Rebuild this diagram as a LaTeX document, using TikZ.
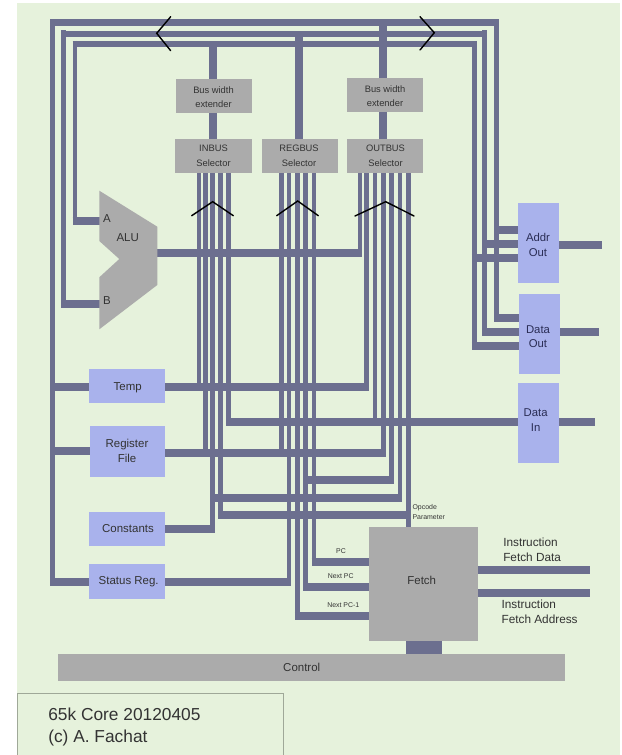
\documentclass[tikz,border=0pt]{standalone}
\usepackage{fontspec}
\setmainfont{Liberation Sans}
\usetikzlibrary{backgrounds}
\definecolor{bgc}{HTML}{E6F2DC}
\definecolor{busc}{HTML}{6C6F8F}
\definecolor{grayc}{HTML}{ABABAB}
\definecolor{bluec}{HTML}{A9B2EC}
\definecolor{txtg}{HTML}{333333}
\definecolor{txtb}{HTML}{2A2D55}
\definecolor{framec}{HTML}{9FA898}
\tikzset{
  graybox/.style={fill=grayc,inner sep=0pt,outer sep=0pt},
  bluebox/.style={fill=bluec,inner sep=0pt,outer sep=0pt},
  txtA/.style={inner sep=0pt,align=center,yshift=-.6pt,text=txtg,font=\fontsize{7pt}{10.9pt}\selectfont},
  txtB/.style={inner sep=0pt,align=center,yshift=-.6pt,text=txtb,font=\fontsize{8.5pt}{10.9pt}\selectfont},
  txtC/.style={inner sep=0pt,align=center,yshift=-.6pt,text=txtg,font=\fontsize{8.6pt}{10.9pt}\selectfont},
  small/.style={inner sep=0pt,align=left,text=txtg,font=\fontsize{5.2pt}{7.5pt}\selectfont},
  side/.style={inner sep=0pt,align=left,yshift=-.6pt,text=txtg,anchor=west,font=\fontsize{8.85pt}{10.8pt}\selectfont},
  vbus/.style={draw=busc,line width=4.7*.75pt,shorten <=-3.5*.75pt,shorten >=-3.5*.75pt},
  hbus/.style={draw=busc,line width=8*.75pt,shorten <=-2.35*.75pt,shorten >=-2.35*.75pt},
  tbus/.style={draw=busc,line width=6.4*.75pt,shorten <=-2.35*.75pt,shorten >=-2.35*.75pt},
  xbus/.style={draw=busc,line width=8*.75pt},
  stem/.style={draw=busc,line width=36*.75pt},
  chev/.style={draw=black,line width=1.4*.75pt,line cap=round,line join=miter},
}
% box plus its text, centred at a given point
\newcommand{\bx}[9][graybox]{%
  \node[#1,minimum width={(#5-#3)*.75pt},minimum height={(#6-#4)*.75pt}] (#2) at ({(#3+#5)/2},{(#4+#6)/2}) {};
  \def\bxname{#2}\def\bxcx{#7}\def\bxcy{#8}\def\bxst{#9}\bxfinish}
\newcommand{\bxfinish}[1]{\node[\bxst] (\bxname t) at (\bxcx,\bxcy) {#1};}
\begin{document}
\begin{tikzpicture}[x=.75pt,y=-.75pt]
\useasboundingbox (0,0) rectangle (621,755);
% ----- nodes -----
\bx{extA}{175.7}{78.7}{251.7}{113.3}{213.5}{97}{txtA}{\strut Bus width\\\strut extender}
\bx{extB}{346.7}{78}{422.7}{112.3}{385}{96}{txtA}{\strut Bus width\\\strut extender}
\bx{inbus}{175}{139}{251.5}{173.3}{213.5}{155.5}{txtA}{\strut INBUS\\\strut Selector}
\bx{regbus}{261.7}{139}{337.5}{173.3}{299}{155.5}{txtA}{\strut REGBUS\\\strut Selector}
\bx{outbus}{347.3}{139}{423.3}{173.3}{385.5}{155.5}{txtA}{\strut OUTBUS\\\strut Selector}
\bx[bluebox]{addr}{518}{203.3}{558.7}{283.3}{538}{245.5}{txtB}{\strut Addr\\\strut Out}
\bx[bluebox]{dout}{519}{293.7}{559.7}{373.7}{538}{337}{txtB}{\strut Data\\\strut Out}
\bx[bluebox]{din}{518}{383.3}{558.7}{463.3}{535.7}{420.5}{txtB}{\strut Data\\\strut In}
\bx[bluebox]{temp}{89.3}{369}{165}{403.3}{127.7}{386.3}{txtC}{\strut Temp}
\bx[bluebox]{reg}{90}{426}{165.3}{477.3}{127}{451.5}{txtC}{\strut Register\\\strut File}
\bx[bluebox]{const}{89.3}{511.7}{165}{546.3}{128}{529}{txtC}{\strut Constants}
\bx[bluebox]{status}{89.3}{564.3}{165}{599}{128.7}{581}{txtC}{\strut Status Reg.}
\bx{control}{57.7}{654.3}{565}{681}{301.7}{667.3}{txtC}{\strut Control}
\bx{fetch}{369.3}{527}{477.7}{640.7}{421.7}{580.7}{txtC}{\strut Fetch}
\fill[grayc] (99.3,190.7) -- (157.3,226.7) -- (157.3,285) -- (99.3,329.3) -- (99.3,277.3) -- (119.3,259) -- (99.3,241) -- cycle;
\node[txtC] (labA) at (107,219) {\strut A};
\node[txtC] (labALU) at (127.7,237.3) {\strut ALU};
\node[txtC] (labB) at (107,300.7) {\strut B};
\node[small,anchor=west] (op) at (412.3,512.7) {\strut Opcode\\\strut Parameter};
\node[small] (lpc) at (341,551.3) {\strut PC};
\node[small] (lnpc) at (340.7,576.3) {\strut Next PC};
\node[small] (lnpc1) at (343.3,605) {\strut Next PC-1};
\node[side] (ifd) at (503,550.5) {\strut Instruction\\\strut Fetch Data};
\node[side] (ifa) at (501.3,612.5) {\strut Instruction\\\strut Fetch Address};
\node[draw=framec,line width=.75pt,minimum width=266*.75pt,minimum height=70*.75pt,inner sep=0pt,anchor=north west] (title) at (17,693) {};
\node[inner sep=0pt,anchor=west,align=left,yshift=-.6pt,text=txtg,font=\fontsize{13pt}{16.5pt}\selectfont] (titlet) at (48,726) {\strut 65k Core 20120405\\\strut (c) A. Fachat};
% ----- bus coordinates -----
\coordinate (i1) at (199,173.3); \coordinate (i2) at (205.5,173.3); \coordinate (i3) at (212.8,173.3); \coordinate (i4) at (220.7,173.3); \coordinate (i5) at (228.5,173.3);
\coordinate (r1) at (281.8,173.3); \coordinate (r2) at (289,173.3); \coordinate (r3) at (297.2,173.3); \coordinate (r4) at (305.5,173.3); \coordinate (r5) at (314,173.3);
\coordinate (o1) at (360,173.3); \coordinate (o2) at (366.7,173.3); \coordinate (o3) at (375,173.3); \coordinate (o4) at (383.3,173.3); \coordinate (o5) at (391.7,173.3); \coordinate (o6) at (400,173.3); \coordinate (o7) at (408.3,173.3);
\coordinate (tl1) at (52.7,22.7); \coordinate (tl2) at (63.5,34); \coordinate (tl3) at (75,44.3);
\coordinate (tr1) at (496.7,22.7); \coordinate (tr2) at (484.7,34); \coordinate (tr3) at (474.3,44.3);
\coordinate (aluA) at (99.3,220.7); \coordinate (aluB) at (99.3,304); \coordinate (aluO) at (157.3,253.3);
\coordinate (a1) at (518,230); \coordinate (a2) at (518,244.3); \coordinate (a3) at (518,258);
\coordinate (d1) at (519,318); \coordinate (d2) at (519,331.7); \coordinate (d3) at (519,346);
\coordinate (aO) at (558.7,245); \coordinate (aE) at (599.4,245);
\coordinate (dO) at (559.7,332); \coordinate (dE) at (596.6,332);
\coordinate (iI) at (518,421.7); \coordinate (iO) at (558.7,421.7); \coordinate (iE) at (592.6,421.7);
\coordinate (tmpR) at (165,386.7); \coordinate (tmpL) at (89.3,386.7);
\coordinate (regR) at (165.3,452.7); \coordinate (regL) at (90,450.7);
\coordinate (constR) at (165,529); \coordinate (statR) at (165,581.5); \coordinate (statL) at (89.3,581.5);
\coordinate (y480) at (300,480); \coordinate (y498) at (300,498.3); \coordinate (y515) at (300,515);
\coordinate (fPC) at (369.3,561.7); \coordinate (fN) at (369.3,586.7); \coordinate (fN1) at (369.3,615.7);
\coordinate (fD) at (477.7,570); \coordinate (fDE) at (587.6,570);
\coordinate (fA) at (477.7,593.3); \coordinate (fAE) at (587.6,593.3);
\coordinate (xa) at (212.7,44.3); \coordinate (xr) at (298.7,34); \coordinate (xo) at (383.3,22.7);
% ----- connectors and backdrop behind the nodes -----
\begin{scope}[on background layer]
\fill[white] (0,0) rectangle (621,755);
\fill[bgc] (17,3) rectangle (620,755);
% top rails
\draw[tbus] (tl1) -- (tr1);
\draw[tbus] (tl2) -- (tr2);
\draw[tbus] (tl3) -- (tr3);
\draw[vbus] (tl1) -- (tl1 |- statL);
\draw[vbus] (tl2) -- (tl2 |- aluB);
\draw[vbus] (tl3) -- (tl3 |- aluA);
\draw[vbus] (tr1) -- (tr1 |- d1);
\draw[vbus] (tr2) -- (tr2 |- d2);
\draw[vbus] (tr3) -- (tr3 |- d3);
\draw[hbus] (aluA -| tl3) -- (aluA);
\draw[hbus] (aluB -| tl2) -- (aluB);
\draw[hbus] (a1 -| tr1) -- (a1);
\draw[hbus] (a2 -| tr2) -- (a2);
\draw[hbus] (a3 -| tr3) -- (a3);
\draw[hbus] (d1 -| tr1) -- (d1);
\draw[hbus] (d2 -| tr2) -- (d2);
\draw[hbus] (d3 -| tr3) -- (d3);
\draw[hbus] (aO) -- (aE);
\draw[hbus] (dO) -- (dE);
\draw[hbus] (iO) -- (iE);
% extenders to selectors
\draw[xbus] (xa) -- (xa |- inbus.north);
\draw[xbus] (xr) -- (xr |- regbus.north);
\draw[xbus] (xo) -- (xo |- outbus.north);
% selector lines
\draw[vbus] (i1) -- (i1 |- tmpR);
\draw[vbus] (i2) -- (i2 |- regR);
\draw[vbus] (i3) -- (i3 |- constR);
\draw[vbus] (i4) -- (i4 |- y515);
\draw[vbus] (i5) -- (i5 |- iI);
\draw[vbus] (r1) -- (r1 |- regR);
\draw[vbus] (r2) -- (r2 |- statR);
\draw[vbus] (r3) -- (r3 |- fN1);
\draw[vbus] (r4) -- (r4 |- fN);
\draw[vbus] (r5) -- (r5 |- fPC);
\draw[vbus] (o1) -- (o1 |- aluO);
\draw[vbus] (o2) -- (o2 |- tmpR);
\draw[vbus] (o3) -- (o3 |- iI);
\draw[vbus] (o4) -- (o4 |- regR);
\draw[vbus] (o5) -- (o5 |- y480);
\draw[vbus] (o6) -- (o6 |- y498);
\draw[vbus] (o7) -- (o7 |- fetch.north);
% horizontal lines
\draw[hbus] (aluO) -- (aluO -| o1);
\draw[hbus] (tmpR) -- (tmpR -| o2);
\draw[hbus] (tmpL -| tl1) -- (tmpL);
\draw[hbus] (iI -| i5) -- (iI);
\draw[hbus] (regR) -- (regR -| o4);
\draw[hbus] (regL -| tl1) -- (regL);
\draw[hbus] (y480 -| r4) -- (y480 -| o5);
\draw[hbus] (y498 -| i3) -- (y498 -| o6);
\draw[hbus] (y515 -| i4) -- (y515 -| o7);
\draw[hbus] (constR) -- (constR -| i3);
\draw[hbus] (statR) -- (statR -| r2);
\draw[hbus] (statL -| tl1) -- (statL);
\draw[hbus] (fPC -| r5) -- (fPC);
\draw[hbus] (fN -| r4) -- (fN);
\draw[hbus] (fN1 -| r3) -- (fN1);
\draw[hbus] (fD) -- (fDE);
\draw[hbus] (fA) -- (fAE);
\draw[stem] (fetch.south) -- (fetch.south |- control.north);
\end{scope}
% ----- chevrons -----
\draw[chev] (170.7,16.7) -- (156.7,33.3) -- (170.7,50.7);
\draw[chev] (420,16.7) -- (434.3,32.7) -- (420,50);
\draw[chev] (191.7,215.7) -- (212.7,201.7) -- (233.3,215.7);
\draw[chev] (276.7,215.7) -- (297.7,201) -- (318.3,215.7);
\draw[chev] (355,216) -- (385.7,201.7) -- (414,216);
\end{tikzpicture}
\end{document}
